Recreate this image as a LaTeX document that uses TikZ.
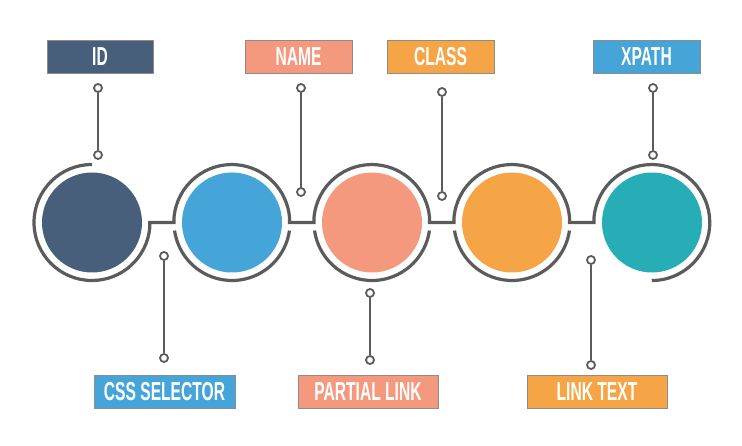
\documentclass[tikz,border=0pt]{standalone}
\usepackage{fontspec}
\setmainfont{Liberation Sans}
\usetikzlibrary{calc}
\definecolor{cDark}{HTML}{475F7B}
\definecolor{cBlue}{HTML}{45A5D8}
\definecolor{cSalmon}{HTML}{F4997E}
\definecolor{cOrange}{HTML}{F5A545}
\definecolor{cTeal}{HTML}{26ADB5}
\definecolor{lineGray}{HTML}{5B5B5B}
\newcommand{\lbl}[1]{\scalebox{0.6}[1]{\fontsize{26}{26}\selectfont\bfseries #1}}
\tikzset{
  disc/.style={circle, inner sep=0pt, minimum size=100pt},
  ringline/.style={draw=lineGray, line width=3.2pt},
  stem/.style={draw=lineGray, line width=2.4pt},
  dot/.style={circle, draw=lineGray, fill=white, line width=1.8pt, minimum size=8pt, inner sep=0pt},
  labelbox/.style={draw=black!45, line width=0.6pt, text=white, minimum height=33pt, inner sep=0pt},
}
\begin{document}
\begin{tikzpicture}[x=1pt,y=1pt]
\useasboundingbox (0,0) rectangle (742,445);
% discs
\node[disc, fill=cDark]   (c1) at (92,222.5)  {};
\node[disc, fill=cBlue]   (c2) at (232,222.5) {};
\node[disc, fill=cSalmon] (c3) at (372,222.5) {};
\node[disc, fill=cOrange] (c4) at (512,222.5) {};
\node[disc, fill=cTeal]   (c5) at (652,222.5) {};
% continuous chain line
\draw[ringline, line join=miter]
  ($(c1)+(90:58pt)$) arc[start angle=90, end angle=355, radius=58pt]
  |- ($(c2)+(-58pt,0)$) -- ++(0,5pt)
  arc[start angle=175, end angle=5, radius=58pt]
  |- ($(c3)+(-58pt,0)$) -- ++(0,5pt)
  arc[start angle=175, end angle=5, radius=58pt]
  |- ($(c4)+(-58pt,0)$) -- ++(0,5pt)
  arc[start angle=175, end angle=5, radius=58pt]
  |- ($(c5)+(-58pt,0)$) -- ++(0,5pt)
  arc[start angle=175, end angle=-90, radius=58pt];
% lower arcs
\draw[ringline] ($(c2)+(188:58pt)$) arc[start angle=188, end angle=352, radius=58pt];
\draw[ringline] ($(c3)+(188:58pt)$) arc[start angle=188, end angle=352, radius=58pt];
\draw[ringline] ($(c4)+(188:58pt)$) arc[start angle=188, end angle=352, radius=58pt];
% label boxes
\node[labelbox, fill=cDark,   minimum width=106pt] (bID)    at (100,388.5) {\lbl{ID}};
\node[labelbox, fill=cSalmon, minimum width=107pt] (bName)  at (298.5,388.5) {\lbl{NAME}};
\node[labelbox, fill=cOrange, minimum width=107pt] (bClass) at (440.5,388.5) {\lbl{CLASS}};
\node[labelbox, fill=cBlue,   minimum width=107pt] (bXpath) at (646.5,388.5) {\lbl{XPATH}};
\node[labelbox, fill=cBlue,   minimum width=141pt] (bCss)   at (164.5,53.5) {\lbl{CSS SELECTOR}};
\node[labelbox, fill=cSalmon, minimum width=140pt] (bPart)  at (368,53.5) {\lbl{PARTIAL LINK}};
\node[labelbox, fill=cOrange, minimum width=140pt] (bLink)  at (597,53.5) {\lbl{LINK TEXT}};
% stems with dots
\node[dot] (dIDa) at (98,357) {};    \node[dot] (dIDb) at (98,290) {};
\node[dot] (dNa)  at (301,357) {};   \node[dot] (dNb)  at (301,253) {};
\node[dot] (dCa)  at (442,353) {};   \node[dot] (dCb)  at (442,249) {};
\node[dot] (dXa)  at (653,357) {};   \node[dot] (dXb)  at (653,290) {};
\node[dot] (dSa)  at (164,189) {};   \node[dot] (dSb)  at (164,87) {};
\node[dot] (dPa)  at (370,152) {};   \node[dot] (dPb)  at (370,85) {};
\node[dot] (dLa)  at (591,185) {};   \node[dot] (dLb)  at (591,80) {};
\draw[stem] (dIDa) -- (dIDb);
\draw[stem] (dNa) -- (dNb);
\draw[stem] (dCa) -- (dCb);
\draw[stem] (dXa) -- (dXb);
\draw[stem] (dSa) -- (dSb);
\draw[stem] (dPa) -- (dPb);
\draw[stem] (dLa) -- (dLb);
\end{tikzpicture}
\end{document}
